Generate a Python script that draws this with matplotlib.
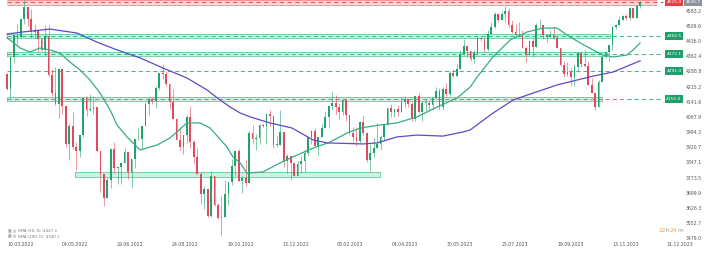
import numpy as np
import matplotlib
matplotlib.use('Agg')
import matplotlib.pyplot as plt
import matplotlib.transforms as mtransforms

# half-week candles, 10.03.2022 .. 12.12.2023
first_open = 4278
close = [4204, 4358, 4463, 4456, 4543, 4602, 4545, 4481, 4488, 4446,
         4392, 4459, 4271, 4183, 4131, 4300, 4123, 3935, 4023, 3923,
         3901, 3978, 4158, 4101, 4108, 4115, 3901, 3790, 3675, 3760,
         3912, 3819, 3825, 3845, 3899, 3801, 3863, 3959, 3962, 4024,
         4130, 4155, 4145, 4210, 4280, 4275, 4228, 4141, 4058, 3955,
         3924, 3980, 4067, 3946, 3873, 3790, 3693, 3719, 3586, 3783,
         3640, 3577, 3583, 3695, 3752, 3830, 3901, 3759, 3771, 3749,
         3992, 3959, 3965, 4027, 4026, 4080, 4072, 3933, 3934, 3995,
         3852, 3878, 3845, 3783, 3839, 3853, 3895, 3970, 3999, 3928,
         3972, 4016, 4070, 4119, 4136, 4118, 4090, 4148, 4079, 3991,
         3970, 3951, 4045, 3992, 3861, 3891, 3917, 3937, 3971, 4027,
         4109, 4090, 4105, 4092, 4138, 4155, 4133, 4056, 4169, 4091,
         4136, 4137, 4124, 4158, 4192, 4115, 4205, 4180, 4282, 4267,
         4299, 4372, 4410, 4388, 4348, 4376, 4450, 4446, 4399, 4472,
         4505, 4565, 4536, 4566, 4582, 4513, 4478, 4467, 4464, 4404,
         4369, 4436, 4405, 4514, 4516, 4465, 4457, 4467, 4450, 4402,
         4320, 4274, 4288, 4263, 4308, 4376, 4327, 4314, 4224, 4186,
         4117, 4237, 4358, 4382, 4415, 4502, 4514, 4538, 4559, 4550,
         4595, 4549, 4604, 4626.7]
high = [4280, 4358, 4465, 4521, 4546, 4637, 4603, 4593, 4521, 4471,
        4453, 4512, 4513, 4299, 4308, 4307, 4270, 4081, 4038, 4090,
        3946, 3981, 4158, 4168, 4177, 4169, 4110, 3838, 3727, 3779,
        3913, 3946, 3827, 3851, 3918, 3880, 3864, 3963, 4012, 4025,
        4141, 4167, 4164, 4219, 4280, 4325, 4292, 4169, 4203, 4062,
        4019, 3980, 4076, 4119, 3956, 3917, 3800, 3733, 3687, 3807,
        3780, 3652, 3685, 3762, 3754, 3862, 3905, 3911, 3782, 3859,
        4001, 4028, 3984, 4033, 4035, 4080, 4101, 4052, 3977, 4101,
        3906, 3889, 3846, 3846, 3852, 3878, 3906, 3970, 4003, 4015,
        3973, 4039, 4095, 4124, 4195, 4176, 4136, 4156, 4137, 4050,
        4018, 4018, 4049, 4079, 3994, 3937, 3964, 4039, 3981, 4030,
        4110, 4133, 4107, 4125, 4163, 4170, 4150, 4141, 4170, 4186,
        4143, 4154, 4143, 4165, 4212, 4210, 4212, 4231, 4290, 4300,
        4323, 4391, 4448, 4407, 4386, 4394, 4458, 4456, 4436, 4488,
        4528, 4578, 4565, 4582, 4607, 4595, 4540, 4519, 4527, 4490,
        4411, 4443, 4452, 4522, 4541, 4515, 4465, 4490, 4511, 4465,
        4375, 4338, 4333, 4306, 4324, 4385, 4385, 4393, 4340, 4255,
        4183, 4245, 4366, 4387, 4416, 4511, 4521, 4557, 4560, 4568,
        4599, 4590, 4609, 4630]
low = [4200, 4161, 4330, 4424, 4450, 4517, 4507, 4450, 4449, 4381,
       4390, 4364, 4267, 4169, 4124, 4062, 4081, 3920, 3858, 3911,
       3810, 3875, 3970, 4074, 4096, 4080, 3900, 3705, 3636, 3705,
       3723, 3797, 3741, 3743, 3858, 3765, 3722, 3818, 3955, 3911,
       4026, 4079, 4129, 4112, 4201, 4253, 4218, 4107, 4057, 3954,
       3906, 3886, 3943, 3916, 3838, 3790, 3647, 3623, 3584, 3584,
       3636, 3573, 3491, 3642, 3640, 3736, 3782, 3758, 3698, 3735,
       3885, 3938, 3906, 3935, 4020, 3939, 4026, 3919, 3924, 3937,
       3827, 3795, 3764, 3780, 3800, 3794, 3802, 3877, 3937, 3925,
       3885, 3974, 4021, 4015, 4102, 4080, 4060, 4079, 4048, 3982,
       3943, 3928, 3943, 3980, 3847, 3808, 3874, 3916, 3908, 3951,
       4033, 4069, 4069, 4072, 4102, 4113, 4114, 4049, 4049, 4088,
       4048, 4098, 4099, 4104, 4154, 4104, 4103, 4166, 4170, 4260,
       4263, 4305, 4367, 4361, 4341, 4328, 4375, 4437, 4385, 4389,
       4486, 4497, 4527, 4546, 4528, 4505, 4474, 4462, 4458, 4403,
       4335, 4375, 4357, 4411, 4501, 4446, 4431, 4459, 4447, 4401,
       4316, 4264, 4265, 4216, 4219, 4284, 4310, 4311, 4223, 4185,
       4103, 4127, 4248, 4355, 4340, 4394, 4496, 4511, 4541, 4540,
       4537, 4546, 4546, 4598]

# moving averages (bar index, value)
sma50_x = [0, 1.7, 3.8, 6.6, 9.5, 12.4, 15.3, 18.2, 21.1, 24.0, 26.9, 29.8, 31.8, 34.7, 37.6,
           38.5, 43.4, 47.1, 49.1, 52.0, 55.8, 58.7, 63.6, 65.3, 67.4, 69.4, 74.0, 78.9, 83.8,
           88.5, 93.4, 98.3, 102.1, 107.8, 112.7, 118.5, 124.3, 130.1, 133.9, 135.9, 140.5,
           145.4, 150.3, 155.0, 159.0, 161.9, 165.7, 169.4, 172.3, 175.2, 179.2, 181.0, 183.0]
sma50_v = [4451, 4431, 4402, 4383, 4402, 4393, 4378, 4334, 4296, 4247, 4184, 4102, 4029, 3971, 3922,
           3908, 3932, 3966, 3995, 4039, 4039, 4014, 3922, 3874, 3845, 3796, 3801, 3845, 3883,
           3917, 3946, 3990, 4014, 4029, 4039, 4068, 4116, 4160, 4213, 4262, 4359,
           4441, 4480, 4499, 4499, 4465, 4427, 4393, 4368, 4359, 4368, 4393, 4427]
sma200_x = [0, 4.6, 12.4, 20.2, 26.0, 31.8, 38.5, 45.1, 52.0, 57.8, 61.6, 64.5, 67.4, 70.3, 76.0,
            82.4, 88.5, 92.5, 102.9, 107.0, 112.7, 118.5, 126.0, 131.8, 133.9, 140.5, 146.3,
            152.1, 159.0, 164.8, 169.4, 175.2, 183.0]
sma200_v = [4470, 4480, 4494, 4475, 4431, 4393, 4354, 4305, 4257, 4199, 4150, 4116, 4087, 4068, 4039,
            4014, 3956, 3942, 3937, 3942, 3971, 3980, 3975, 3995, 4005, 4087, 4150,
            4184, 4223, 4247, 4266, 4286, 4340]

# zones
zone_mid = [4460.5, 4372.1, 4291.3, 4155.0]
zone_lo = [4451, 4362, None, 4143]
zone_hi = [4470, 4381, None, 4167]
zone_end = [174.3, 173.5, None, 172.0]
support_lo, support_hi = 3777, 3801
support_x = [19.7, 107.8]
resist_level = 4625.0
resist_lo, resist_hi = 4612, 4635
last_price = 4626.7

ytick_vals = [3479.0, 3552.7, 3626.3, 3699.9, 3773.5, 3847.1, 3920.7, 3994.3,
              4067.9, 4141.6, 4215.2, 4288.8, 4362.4, 4436.0, 4509.6, 4583.2]
date_labels = ['10.03.2022', '04.05.2022', '29.06.2022', '24.08.2022', '19.10.2022',
               '13.12.2022', '08.02.2023', '04.04.2023', '30.05.2023', '25.07.2023',
               '19.09.2023', '13.11.2023', '31.12.2023']
date_pos = [0, 15.9, 31.8, 47.7, 63.6, 79.5, 95.4, 111.3, 127.2, 143.1, 159.0, 174.9, 190.8]

GREEN = '#22a36c'
RED = '#e04a5c'
TEAL = '#35ad84'
PURPLE = '#6247c9'

fig = plt.figure(figsize=(7.07, 2.68), dpi=100)
ax = fig.add_axes([0, 28/268, 683/707, 240/268])
ax.set_xlim(-2.02, 195.4)
ax.set_ylim(3471.1, 4635.1)

# zones
dash = (0, (4, 3))
for lvl, lo, hi, xe in zip(zone_mid, zone_lo, zone_hi, zone_end):
    if lo is not None:
        ax.fill_between([0, xe], lo, hi, color='#c6efdb', alpha=0.85, lw=0, zorder=1)
        ax.plot([0, xe, xe, 0, 0], [lo, lo, hi, hi, lo], color='#62cba0', lw=0.6, zorder=1)
    ax.hlines(lvl, 0, 189.6, colors='#45b88f', lw=0.75, linestyles=dash, zorder=2)
ax.fill_between(support_x, support_lo, support_hi, color='#c6efdb', alpha=0.85, lw=0, zorder=1)
ax.plot([support_x[0], support_x[1], support_x[1], support_x[0], support_x[0]],
        [support_lo, support_lo, support_hi, support_hi, support_lo], color='#62cba0', lw=0.6, zorder=1)
ax.fill_between([0, 188], resist_lo, resist_hi, color='#f9d3d3', alpha=0.9, lw=0, zorder=1)
ax.hlines([resist_lo, resist_hi], 0, 188, colors='#ec8a8a', lw=0.6, zorder=1)
ax.hlines(resist_level, 0, 189.6, colors='#e25b5b', lw=0.8, linestyles=dash, zorder=2)

# moving averages
ax.plot(sma50_x, sma50_v, color=TEAL, lw=0.9, zorder=5)
ax.plot(sma200_x, sma200_v, color=PURPLE, lw=0.9, zorder=5)

# candles
c = np.array(close, dtype=float)
o = np.r_[first_open, c[:-1]]
h = np.maximum(np.array(high, dtype=float), np.maximum(o, c))
l = np.minimum(np.array(low, dtype=float), np.minimum(o, c))
x = np.arange(len(c))
cols = np.where(c >= o, GREEN, RED)
ax.vlines(x, l, h, colors=cols, lw=0.4, zorder=3)
body = np.maximum(np.abs(c - o), 2.0)
ax.bar(x, body, bottom=np.minimum(o, c), width=0.5, color=cols, lw=0, zorder=4)

# axes styling
for s in ax.spines.values():
    s.set_visible(False)
ax.yaxis.tick_right()
ax.set_yticks(ytick_vals)
ax.set_yticklabels([f'{v:.1f}' for v in ytick_vals])
ax.set_xticks(date_pos)
ax.set_xticklabels(date_labels, ha='left')
ax.tick_params(axis='y', length=0, pad=2.2, labelsize=3.3, labelcolor='#555555')
ax.tick_params(axis='x', length=0, pad=1.2, labelsize=3.3, labelcolor='#555555')

# level labels on the right
trans = mtransforms.blended_transform_factory(ax.transAxes, ax.transData)
for lvl in zone_mid:
    ax.text(674/683, lvl, f'{lvl:.1f}', transform=trans, ha='center', va='center',
            fontsize=3.2, color='white', zorder=6, clip_on=False,
            bbox=dict(boxstyle='square,pad=0.4', fc='#1f9f6a', ec='none'))
ax.text(674/683, resist_level, f'{resist_level:.1f}', transform=trans, ha='center', va='center',
        fontsize=3.2, color='white', zorder=6, clip_on=False,
        bbox=dict(boxstyle='square,pad=0.4', fc='#e2413f', ec='none'))
ax.text(693/683, last_price, f'{last_price:.1f}', transform=trans, ha='center', va='center',
        fontsize=3.2, color='white', zorder=6, clip_on=False,
        bbox=dict(boxstyle='square,pad=0.4', fc='#8b929b', ec='none'))

# countdown
ty = 1 - 231/268
fig.text(658/707, ty, '12', fontsize=4.2, color='#f3a33a', va='center')
fig.text(665.5/707, ty, 'h', fontsize=4.2, color='#9a9a9a', va='center')
fig.text(670/707, ty, '24', fontsize=4.2, color='#f3a33a', va='center')
fig.text(677.5/707, ty, 'm', fontsize=4.2, color='#9a9a9a', va='center')

# legend
fig.text(8/707, 1 - 231/268, '▣ ◎', fontsize=2.8, color='#8a8a8a', va='center')
fig.text(18/707, 1 - 231/268, 'SMA (50, 0)  4427.3', fontsize=2.8, color='#777777', va='center')
fig.text(8/707, 1 - 236.5/268, '▣ ◎', fontsize=2.8, color='#8a8a8a', va='center')
fig.text(18/707, 1 - 236.5/268, 'SMA (200, 0)  4340.1', fontsize=2.8, color='#777777', va='center')

fig.savefig('out.png', dpi=100, facecolor='white')
